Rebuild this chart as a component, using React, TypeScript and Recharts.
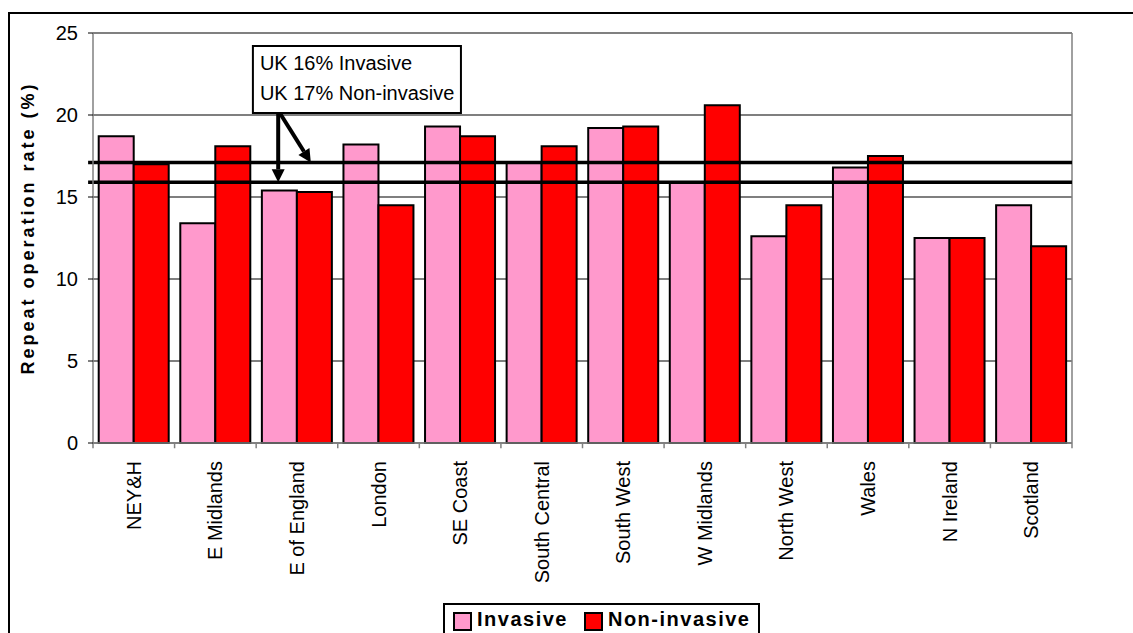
import {
  ComposedChart,
  Bar,
  XAxis,
  YAxis,
  CartesianGrid,
  ReferenceLine,
  ReferenceArea,
} from 'recharts';

const REGIONS = [
  'NEY&H',
  'E Midlands',
  'E of England',
  'London',
  'SE Coast',
  'South Central',
  'South West',
  'W Midlands',
  'North West',
  'Wales',
  'N Ireland',
  'Scotland',
];
const INVASIVE = [18.7, 13.4, 15.4, 18.2, 19.3, 17.1, 19.2, 15.9, 12.6, 16.8, 12.5, 14.5];
const NON_INVASIVE = [17.0, 18.1, 15.3, 14.5, 18.7, 18.1, 19.3, 20.6, 14.5, 17.5, 12.5, 12.0];
const UK_INVASIVE = 15.9;
const UK_NON_INVASIVE = 17.1;
const Y_TICKS = [0, 5, 10, 15, 20, 25];
const NOTE_LINES = ['UK 16% Invasive', 'UK 17% Non-invasive'];

const SERIES = [
  { key: 'invasive', name: 'Invasive', color: '#FF99CC' },
  { key: 'nonInvasive', name: 'Non-invasive', color: '#FF0000' },
];

const data = REGIONS.map((region, i) => ({
  region,
  invasive: INVASIVE[i],
  nonInvasive: NON_INVASIVE[i],
  slot: i + 0.5,
}));

const FONT = 'Arial, "Liberation Sans", sans-serif';

// arrow for the UK note, drawn from the segment ends
function Arrow(props: any) {
  const { x1, y1, x2, y2 } = props;
  const dx = x2 - x1;
  const dy = y2 - y1;
  const len = Math.hypot(dx, dy) || 1;
  const ux = dx / len;
  const uy = dy / len;
  const head = 13;
  const half = 6.5;
  const bx = x2 - ux * head;
  const by = y2 - uy * head;
  const pts = `${x2},${y2} ${bx - uy * half},${by + ux * half} ${bx + uy * half},${by - ux * half}`;
  return (
    <g>
      <line x1={x1} y1={y1} x2={bx} y2={by} stroke="#000" strokeWidth={4} />
      <polygon points={pts} fill="#000" />
    </g>
  );
}

function RegionTick(props: any) {
  const { x, y, payload } = props;
  const ty = y + 10;
  return (
    <text
      x={x}
      y={ty}
      transform={`rotate(-90, ${x}, ${ty})`}
      textAnchor="end"
      dominantBaseline="central"
      fontSize={20}
      fontFamily={FONT}
      fill="#000"
    >
      {payload.value}
    </text>
  );
}

function NoteLabel(props: any) {
  const { x, y } = props.viewBox;
  return (
    <g>
      {NOTE_LINES.map((line, i) => (
        <text key={line} x={x + 7} y={y + 24 + i * 30} fontSize={20} fontFamily={FONT} fill="#000">
          {line}
        </text>
      ))}
    </g>
  );
}

function AxisTitle(props: any) {
  const { x, y, height } = props.viewBox;
  const cx = x + 28;
  const cy = y + height / 2 - 10;
  return (
    <text
      x={cx}
      y={cy}
      transform={`rotate(-90, ${cx}, ${cy})`}
      textAnchor="middle"
      dominantBaseline="central"
      fontSize={18}
      fontWeight="bold"
      letterSpacing={3}
      fontFamily={FONT}
      fill="#000"
    >
      Repeat operation rate (%)
    </text>
  );
}

export default function App() {
  const boundaries = REGIONS.map((_, i) => i).concat(REGIONS.length);

  return (
    <div
      style={{
        position: 'fixed',
        left: 0,
        top: 0,
        width: 1133,
        height: 633,
        overflow: 'hidden',
        background: '#fff',
        fontFamily: FONT,
      }}
    >
      <div
        style={{
          position: 'absolute',
          left: 8,
          top: 12,
          width: 1300,
          height: 800,
          border: '2px solid #000',
        }}
      />
      <div style={{ position: 'absolute', left: 0, top: 0 }}>
        <ComposedChart
          width={1133}
          height={633}
          data={data}
          margin={{ top: 33, right: 61, bottom: 0, left: 0 }}
          barGap={0}
          barCategoryGap="7%"
        >
          <CartesianGrid horizontal vertical={false} stroke="#000" strokeWidth={1.2} />
          <XAxis
            dataKey="region"
            interval={0}
            height={190}
            tickLine={false}
            axisLine={{ stroke: '#808080', strokeWidth: 1.5 }}
            tick={<RegionTick />}
          />
          <XAxis
            xAxisId="pos"
            dataKey="slot"
            type="number"
            domain={[0, REGIONS.length]}
            allowDataOverflow
            hide
          />
          <YAxis
            domain={[0, 25]}
            ticks={Y_TICKS}
            width={93}
            tickSize={5}
            tickMargin={10}
            tickLine={{ stroke: '#000' }}
            axisLine={{ stroke: '#808080', strokeWidth: 1.5 }}
            tick={{ fontSize: 20, fontFamily: FONT, fill: '#000' }}
            label={<AxisTitle />}
          />
          {SERIES.map((s) => (
            <Bar
              key={s.key}
              dataKey={s.key}
              name={s.name}
              fill={s.color}
              stroke="#000"
              strokeWidth={2}
              isAnimationActive={false}
            />
          ))}
          {/* plot area border, top and right */}
          <ReferenceLine y={25} stroke="#808080" strokeWidth={1.5} />
          <ReferenceLine xAxisId="pos" x={REGIONS.length} stroke="#808080" strokeWidth={1.5} />
          {/* ticks between categories */}
          {boundaries.map((b) => (
            <ReferenceLine
              key={`b-${b}`}
              xAxisId="pos"
              segment={[
                { x: b, y: 0 },
                { x: b, y: -0.32 },
              ]}
              ifOverflow="visible"
              stroke="#808080"
              strokeWidth={1.5}
            />
          ))}
          {[UK_INVASIVE, UK_NON_INVASIVE].map((v) => (
            <ReferenceLine
              key={`uk-${v}`}
              xAxisId="pos"
              segment={[
                { x: -0.06, y: v },
                { x: REGIONS.length, y: v },
              ]}
              ifOverflow="visible"
              stroke="#000"
              strokeWidth={3.5}
            />
          ))}
          <ReferenceArea
            xAxisId="pos"
            x1={1.96}
            x2={4.51}
            y1={20.12}
            y2={24.2}
            fill="#fff"
            fillOpacity={1}
            stroke="#000"
            strokeWidth={2}
            label={<NoteLabel />}
          />
          <ReferenceLine
            xAxisId="pos"
            segment={[
              { x: 2.27, y: 20.12 },
              { x: 2.27, y: UK_INVASIVE },
            ]}
            shape={<Arrow />}
          />
          <ReferenceLine
            xAxisId="pos"
            segment={[
              { x: 2.29, y: 20.12 },
              { x: 2.67, y: UK_NON_INVASIVE },
            ]}
            shape={<Arrow />}
          />
        </ComposedChart>
      </div>
      <div
        style={{
          position: 'absolute',
          left: 443,
          top: 603,
          width: 317,
          height: 40,
          border: '2px solid #000',
          background: '#fff',
          display: 'flex',
          alignItems: 'flex-start',
          paddingTop: 3,
          boxSizing: 'border-box',
          whiteSpace: 'nowrap',
        }}
      >
        {SERIES.map((s, i) => (
          <div
            key={s.key}
            style={{ display: 'flex', alignItems: 'center', marginLeft: i === 0 ? 8 : 16 }}
          >
            <span
              style={{
                display: 'inline-block',
                width: 15,
                height: 15,
                background: s.color,
                border: '2px solid #000',
                marginRight: 5,
                marginTop: 4,
              }}
            />
            <span style={{ fontSize: 20, fontWeight: 'bold', letterSpacing: 1.5 }}>{s.name}</span>
          </div>
        ))}
      </div>
    </div>
  );
}
